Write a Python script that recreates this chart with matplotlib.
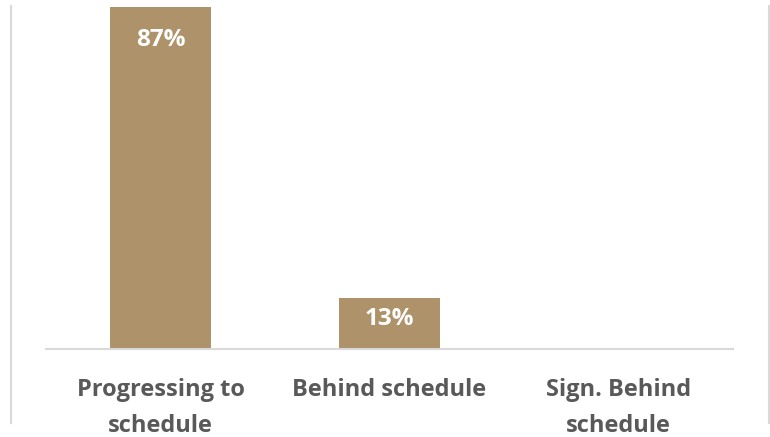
import matplotlib.pyplot as plt
from matplotlib.lines import Line2D

categories = ["Progressing to\nschedule", "Behind schedule", "Sign. Behind\nschedule"]
values = [87, 13, 0]
value_labels = ["87%", "13%", ""]

bar_color = "#ae9269"
grid_color = "#d9d9d9"
text_color = "#595959"

plt.rcParams['font.family'] = ['Open Sans', 'DejaVu Sans']

W, H = 770, 437
fig = plt.figure(figsize=(W / 100, H / 100), dpi=100)
ax = fig.add_axes([46 / W, (H - 349) / H, 687 / W, 343 / H])

x = range(len(categories))
ymax = 87.3
bars = ax.bar(x, values, width=0.445, color=bar_color, zorder=2)
ax.set_xlim(-0.5, len(categories) - 0.5)
ax.set_ylim(0, ymax)

# value labels inside the bar end, kept within the plot area
for b, v, lab in zip(bars, values, value_labels):
    if lab:
        y = min(v - 5.3, ymax - 8.7)
        ax.text(b.get_x() + b.get_width() / 2, y, lab, ha='center', va='center',
                color='white', fontsize=17.5, fontweight='bold')

for side in ['top', 'right', 'left']:
    ax.spines[side].set_visible(False)
ax.spines['bottom'].set_color(grid_color)
ax.spines['bottom'].set_linewidth(1.5)
ax.set_yticks([])
ax.set_xticks(list(x))
ax.set_xticklabels(categories, fontsize=17, fontweight='bold', color=text_color,
                   linespacing=1.65)
ax.tick_params(axis='x', length=0, pad=21)

# chart area border sides
fig.add_artist(Line2D([11 / W, 11 / W], [1 - 6 / H, 1 - 423 / H], color=grid_color, lw=1.5))
fig.add_artist(Line2D([768.5 / W, 768.5 / W], [1 - 6 / H, 1 - 423 / H], color=grid_color, lw=1.5))

fig.savefig("out.png", dpi=100)
